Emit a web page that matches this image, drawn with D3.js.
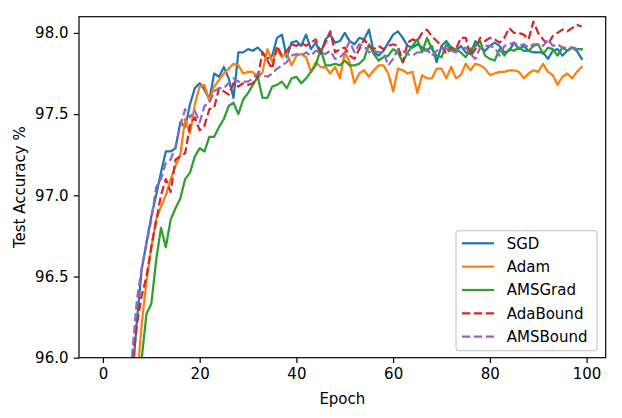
<!DOCTYPE html>
<html>
<head>
<meta charset="utf-8">
<script src="https://cdn.jsdelivr.net/npm/d3@7"></script>
<style>
  body { margin: 0; background: #fff; }
  text { font-family: "DejaVu Sans", sans-serif; fill: #000; }
</style>
</head>
<body>
<div id="vis_container"></div>
<script>
// Test accuracy per epoch (0..99) for each optimizer.
// Values before epoch ~6 sit below the visible range and get clipped.
var epochs = d3.range(100);

var sgd = [93.2,94.1,94.6,95.0,95.3,95.55,95.85,96.22,96.54,96.71,
  96.87,97.0,97.14,97.27,97.27,97.29,97.45,97.42,97.56,97.66,
  97.69,97.65,97.59,97.75,97.73,97.79,97.72,97.6,97.88,97.88,
  97.9,97.89,97.91,97.88,97.84,97.86,97.97,97.99,97.85,97.94,
  97.95,97.92,97.99,97.9,97.94,97.87,97.96,97.99,97.94,97.95,
  98.0,97.95,97.93,97.97,97.96,98.02,97.88,97.86,97.89,97.94,
  97.99,98.01,97.97,97.92,97.91,97.93,97.91,97.89,97.92,97.82,
  97.92,97.95,97.91,97.89,97.92,97.88,97.87,97.95,97.91,97.89,
  97.92,97.94,97.92,97.88,97.89,97.94,97.9,97.92,97.89,97.88,
  97.88,97.88,97.84,97.89,97.9,97.86,97.89,97.91,97.89,97.84];

var adam = [92.8,93.7,94.3,94.8,95.1,95.35,95.6,95.85,96.2,96.47,
  96.68,96.85,96.93,97.0,97.1,97.18,97.25,97.47,97.38,97.56,
  97.67,97.68,97.58,97.67,97.71,97.75,97.78,97.81,97.8,97.75,
  97.76,97.76,97.72,97.76,97.9,97.82,97.9,97.85,97.88,97.8,
  97.86,97.87,97.85,97.76,97.82,97.79,97.79,97.75,97.79,97.72,
  97.88,97.82,97.69,97.75,97.77,97.73,97.77,97.8,97.8,97.75,
  97.64,97.78,97.77,97.75,97.76,97.63,97.74,97.72,97.72,97.78,
  97.78,97.72,97.79,97.72,97.74,97.81,97.77,97.81,97.8,97.78,
  97.74,97.75,97.76,97.76,97.77,97.77,97.76,97.72,97.75,97.77,
  97.76,97.81,97.76,97.74,97.68,97.73,97.75,97.72,97.76,97.79];

var amsgrad = [92.5,93.4,94.0,94.5,94.9,95.2,95.45,95.72,95.99,96.27,
  96.33,96.6,96.8,96.68,96.85,96.92,96.98,97.1,97.14,97.24,
  97.29,97.27,97.36,97.36,97.42,97.47,97.55,97.57,97.5,97.59,
  97.63,97.68,97.73,97.6,97.6,97.67,97.68,97.7,97.66,97.72,
  97.73,97.69,97.72,97.76,97.8,97.9,97.8,97.8,97.81,97.8,
  97.83,97.8,97.8,97.81,97.84,97.93,97.87,97.83,97.85,97.86,
  97.9,97.88,97.82,97.88,97.92,97.96,97.88,97.97,97.9,97.86,
  97.85,97.93,97.89,97.9,97.88,97.85,97.9,97.92,97.95,97.86,
  97.84,97.83,97.9,97.86,97.9,97.89,97.91,97.89,97.89,97.92,
  97.93,97.87,97.91,97.9,97.86,97.91,97.89,97.91,97.9,97.9];

var adabound = [93.0,93.9,94.5,94.9,95.2,95.5,95.92,96.2,96.38,96.5,
  96.68,96.84,97.0,97.1,97.02,97.22,97.24,97.26,97.43,97.48,
  97.4,97.43,97.53,97.54,97.66,97.64,97.62,97.69,97.67,97.69,
  97.68,97.69,97.73,97.88,97.83,97.78,97.92,97.86,97.89,97.93,
  97.92,97.94,97.92,97.94,97.96,97.88,97.94,98.01,97.88,97.9,
  97.91,97.86,97.84,97.9,97.96,97.92,97.9,97.92,97.9,97.92,
  97.93,97.92,97.82,97.94,97.96,97.95,98.0,98.02,97.98,97.95,
  97.92,97.87,97.91,97.9,97.97,97.97,97.86,97.9,97.97,97.95,
  97.97,97.96,97.94,97.97,98.03,98.0,98.0,97.99,97.96,98.07,
  98.0,97.96,97.93,97.98,98.0,98.02,98.01,98.03,98.05,98.04];

var amsbound = [93.3,94.2,94.7,95.1,95.4,95.7,96.0,96.35,96.55,96.7,
  96.85,97.05,97.1,97.2,97.22,97.3,97.43,97.53,97.48,97.52,
  97.45,97.55,97.57,97.64,97.66,97.66,97.69,97.72,97.7,97.7,
  97.7,97.72,97.75,97.74,97.73,97.75,97.78,97.8,97.82,97.86,
  97.87,97.86,97.88,97.86,97.89,97.88,97.87,97.89,97.84,97.85,
  97.88,97.95,97.88,97.93,97.92,97.88,97.89,97.88,97.88,97.8,
  97.84,97.9,97.89,97.87,97.86,97.88,97.88,97.9,97.86,97.89,
  97.91,97.9,97.89,97.88,97.9,97.91,97.87,97.84,97.91,97.92,
  97.92,97.91,97.86,97.92,97.93,97.94,97.92,97.93,97.91,97.93,
  97.93,97.92,97.96,97.92,97.93,97.91,97.91,97.91,97.9,97.89];

var series_names = ["SGD", "Adam", "AMSGrad", "AdaBound", "AMSBound"];
var series_values = [sgd, adam, amsgrad, adabound, amsbound];
var x_ticks = [0, 20, 40, 60, 80, 100];
var y_ticks = [96.0, 96.5, 97.0, 97.5, 98.0];

// Canvas and plot box (matplotlib-ish proportions, 1.5px per point).
var width = 622;
var height = 418;
var plot = {left: 79, right: 605.7, top: 16.7, bottom: 357.7};

var colors = ["#1f77b4", "#ff7f0e", "#2ca02c", "#d62728", "#9467bd"];
var dashed = [false, false, false, true, true];

var x = d3.scaleLinear()
	.domain([-4.95, 103.95])
	.range([plot.left, plot.right]);

var y = d3.scaleLinear()
	.domain([96.0, 98.1])
	.range([plot.bottom, plot.top]);

var svg = d3.select("#vis_container")
	.append("svg")
	.attr("width", width)
	.attr("height", height);

svg.append("defs").append("clipPath")
	.attr("id", "plot-clip")
	.append("rect")
	.attr("x", plot.left)
	.attr("y", plot.top)
	.attr("width", plot.right - plot.left)
	.attr("height", plot.bottom - plot.top);

// Lines
var line = d3.line()
	.x(function(d, i) { return x(epochs[i]); })
	.y(function(d) { return y(d); });

svg.append("g")
	.attr("clip-path", "url(#plot-clip)")
	.selectAll("path")
	.data(series_values)
	.enter().append("path")
	.attr("d", line)
	.style("fill", "none")
	.style("stroke", function(d, i) { return colors[i]; })
	.style("stroke-width", 2.25)
	.style("stroke-linejoin", "round")
	.style("stroke-linecap", function(d, i) { return dashed[i] ? "butt" : "square"; })
	.style("stroke-dasharray", function(d, i) { return dashed[i] ? "8.3,3.6" : null; });

// Axes
var xAxis = svg.append("g")
	.attr("transform", "translate(0," + plot.bottom + ")")
	.call(d3.axisBottom(x).tickValues(x_ticks).tickSize(5.25).tickPadding(5.25).tickFormat(d3.format("d")));

var yAxis = svg.append("g")
	.attr("transform", "translate(" + plot.left + ",0)")
	.call(d3.axisLeft(y).tickValues(y_ticks).tickSize(5.25).tickPadding(5.25).tickFormat(d3.format(".1f")));

[xAxis, yAxis].forEach(function(a) {
	a.select(".domain").remove();
	a.selectAll("line").style("stroke", "#000").style("stroke-width", 1.2);
	a.selectAll("text").style("font-size", "15px").style("font-family", "DejaVu Sans, sans-serif");
});

// Frame
svg.append("rect")
	.attr("x", plot.left)
	.attr("y", plot.top)
	.attr("width", plot.right - plot.left)
	.attr("height", plot.bottom - plot.top)
	.style("fill", "none")
	.style("stroke", "#000")
	.style("stroke-width", 1.2);

// Axis labels
svg.append("text")
	.attr("x", (plot.left + plot.right) / 2)
	.attr("y", 404)
	.style("text-anchor", "middle")
	.style("font-size", "15px")
	.text("Epoch");

svg.append("text")
	.attr("transform", "translate(25," + ((plot.top + plot.bottom) / 2) + ") rotate(-90)")
	.style("text-anchor", "middle")
	.style("font-size", "15px")
	.text("Test Accuracy %");

// Legend
var legend = svg.append("g");

legend.append("rect")
	.attr("x", 456)
	.attr("y", 230.7)
	.attr("width", 141)
	.attr("height", 120)
	.attr("rx", 3)
	.style("fill", "#fff")
	.style("fill-opacity", 0.8)
	.style("stroke", "#cccccc")
	.style("stroke-width", 1.2);

var rows = legend.selectAll(".row")
	.data(series_names)
	.enter().append("g")
	.attr("class", "row")
	.attr("transform", function(d, i) { return "translate(0," + (243.3 + i * 23.35) + ")"; });

rows.append("line")
	.attr("x1", 462)
	.attr("x2", 494)
	.style("stroke", function(d, i) { return colors[i]; })
	.style("stroke-width", 2.25)
	.style("stroke-dasharray", function(d, i) { return dashed[i] ? "8.3,3.6" : null; });

rows.append("text")
	.attr("x", 506.7)
	.attr("dy", "0.36em")
	.style("font-size", "15px")
	.text(function(d) { return d; });
</script>
</body>
</html>
